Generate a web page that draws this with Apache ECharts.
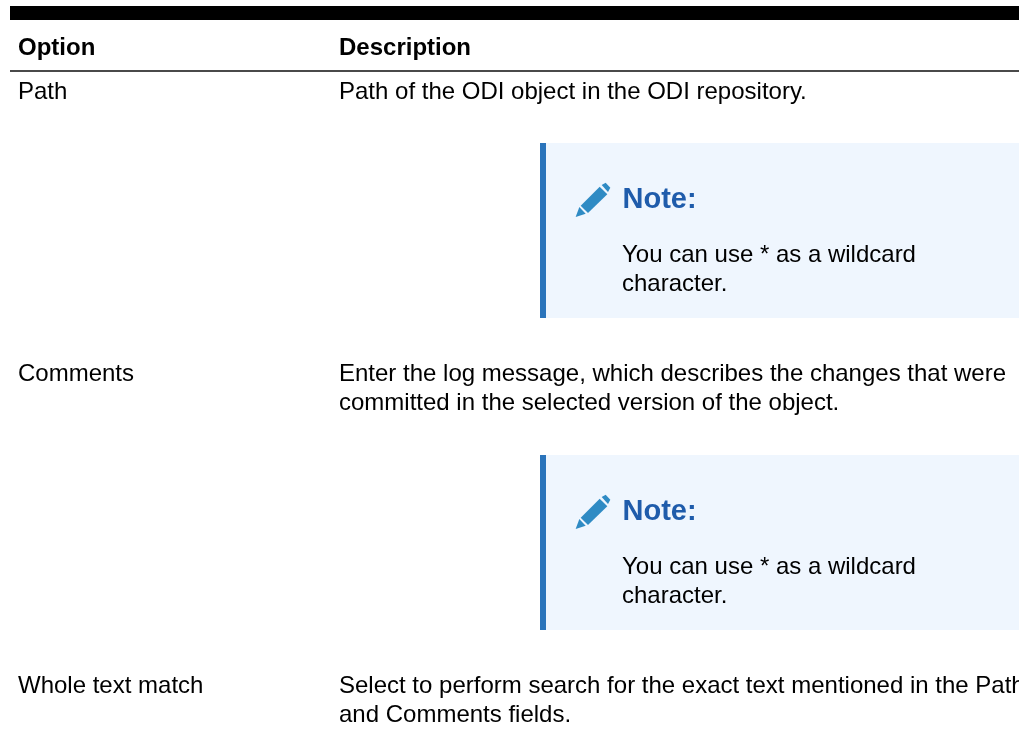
<!DOCTYPE html>
<html><head><meta charset="utf-8">
<style>html,body{margin:0;padding:0;background:#fff}#c{width:1019px;height:732px}</style>
<script src="https://cdn.jsdelivr.net/npm/echarts@6/dist/echarts.min.js"></script>
</head><body><div id="c"></div>
<script>
const headers = ['Option', 'Description'];
const options = ['Path', 'Comments', 'Whole text match'];
const descriptions = [
  ['Path of the ODI object in the ODI repository.'],
  ['Enter the log message, which describes the changes that were', 'committed in the selected version of the object.'],
  ['Select to perform search for the exact text mentioned in the Path', 'and Comments fields.']
];
const noteTitle = 'Note:';
const noteLines = ['You can use * as a wildcard', 'character.'];
const rowY = [92, 374, 686.5];
const noteY = [143, 455];

const FONT = '"Liberation Sans", Arial, sans-serif';
const SIZE = 24;
const els = [];
function txt(x, y, s, o) {
  o = o || {};
  els.push({type:'text', x, y, silent:true, style:{text:s, fill:o.fill||'#000', font:(o.weight||'normal')+' '+(o.size||SIZE)+'px '+FONT, textVerticalAlign:'middle', textAlign:'left'}});
}
function poly(points, fill) { els.push({type:'polygon', silent:true, shape:{points}, style:{fill}}); }
function rect(x,y,width,height,fill){ els.push({type:'rect', silent:true, shape:{x,y,width,height}, style:{fill}}); }

rect(10,6,1009,14,'#000');
rect(10,70,1009,2,'#4a4a4a');
txt(18,48,headers[0],{weight:'bold'});
txt(339,48,headers[1],{weight:'bold'});
options.forEach((o,i)=>{
  txt(18,rowY[i],o);
  descriptions[i].forEach((l,j)=>txt(339,rowY[i]+j*29,l));
});
noteY.forEach(y=>{
  rect(540,y,479,175,'#eff6fe');
  rect(540,y,6,175,'#2a74bb');
  const dx=530, dy=y-8;
  const P=(a)=>a.map(p=>[dx+p[0]/3,dy+p[1]/3]);
  poly(P([[137,246],[148,216],[167,236]]),'#2f8bc4');
  poly(P([[152,212],[209,155],[232,178],[174,234]]),'#2f8bc4');
  poly(P([[215,150],[227,143],[241,158],[234,171]]),'#2f8bc4');
  txt(622.5,y+57,noteTitle,{weight:'bold',size:29,fill:'#1f5cab'});
  txt(622,y+112.3,noteLines[0]);
  txt(622,y+141,noteLines[1]);
});
const chart = echarts.init(document.getElementById('c'),null,{renderer:'canvas'});
chart.setOption({animation:false, backgroundColor:'#fff', graphic:{elements:els}});
</script></body></html>
